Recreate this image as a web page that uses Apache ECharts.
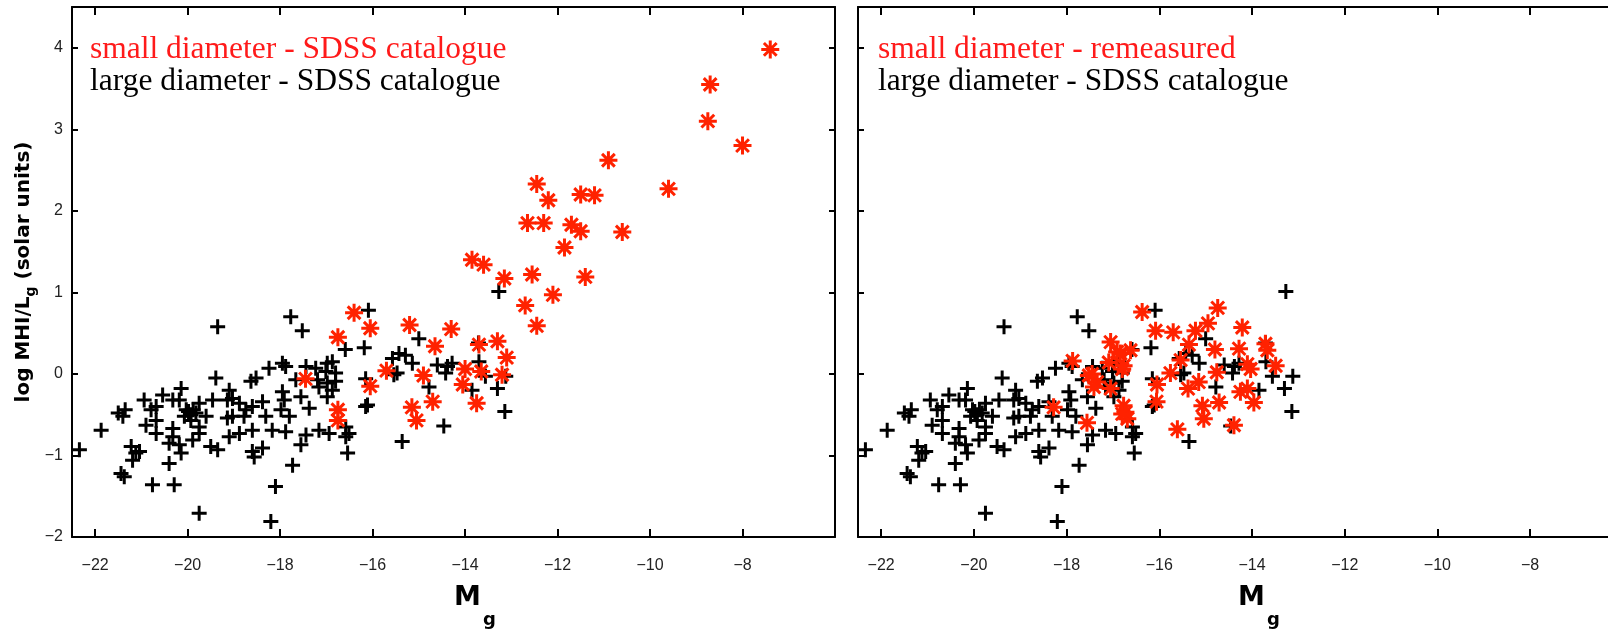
<!DOCTYPE html>
<html><head><meta charset="utf-8">
<script src="https://cdn.jsdelivr.net/npm/echarts@6/dist/echarts.min.js"></script>
<style>html,body{margin:0;padding:0;background:#fff}#c{width:1608px;height:630px}</style>
</head><body><div id="c"></div>
<script>
// ---- data ----
const xTicks = [-22, -20, -18, -16, -14, -12, -10, -8];
const yTicks = [-2, -1, 0, 1, 2, 3, 4];
const xRangeLeft = [-22.5, -6];
const xRangeRight = [-22.5, -6.32];   // right panel is cut by the picture edge
const yRange = [-2, 4.5];

const legendLeft = ['small diameter - SDSS catalogue', 'large diameter - SDSS catalogue'];
const legendRight = ['small diameter - remeasured', 'large diameter - SDSS catalogue'];
const yTitle = ['log MHI/L', 'g', ' (solar units)'];
const xTitle = ['M', 'g'];

// large diameter galaxies (same in both panels)
const largeDiameter = [
  [-22.34,-0.93],[-21.87,-0.69],
  [-21.5,-0.48],[-21.35,-0.44],[-21.4,-0.52],
  [-21.22,-0.89],[-21.12,-0.97],[-21.19,-1.06],[-21.04,-0.95],
  [-21.44,-1.22],[-21.37,-1.26],
  [-20.94,-0.32],[-20.79,-0.44],[-20.68,-0.40],[-20.9,-0.63],[-20.68,-0.57],[-20.68,-0.73],
  [-20.54,-0.26],[-20.32,-0.32],[-20.14,-0.18],[-20.18,-0.32],
  [-20.32,-0.67],[-20.32,-0.77],[-20.18,-0.87],[-20.4,-0.85],[-20.4,-1.1],[-20.14,-0.97],
  [-20.03,-0.44],[-19.93,-0.50],[-20.07,-0.52],[-19.82,-0.48],[-19.93,-0.57],[-19.98,-0.46],[-19.88,-0.44],
  [-19.75,-0.36],[-19.6,-0.52],[-19.75,-0.65],[-19.75,-0.73],[-19.89,-0.81],
  [-19.5,-0.89],[-19.35,-0.93],
  [-19.39,-0.05],[-19.35,0.58],
  [-19.46,-0.32],[-19.14,-0.32],[-19.1,-0.2],[-19.03,-0.3],[-18.88,-0.36],
  [-19.03,-0.52],[-19.14,-0.54],[-18.78,-0.52],[-18.74,-0.44],
  [-19.1,-0.77],[-18.88,-0.73],
  [-19.75,-1.71],
  [-20.76,-1.36],[-20.29,-1.36],
  [-18.63,-0.09],[-18.52,-0.05],
  [-18.6,-0.4],[-18.38,-0.34],[-18.6,-0.69],[-18.6,-0.95],[-18.38,-0.91],[-18.56,-1.02],
  [-18.31,-0.52],[-18.17,-0.69],
  [-18.24,0.07],[-17.95,0.13],[-17.88,0.09],
  [-17.95,-0.22],[-17.98,-0.44],[-17.8,-0.52],[-17.88,-0.71],[-17.91,-0.32],
  [-17.73,-1.12],[-18.1,-1.38],[-18.2,-1.81],
  [-17.77,0.70],[-17.52,0.53],
  [-17.66,-0.07],[-17.44,0.09],[-17.55,-0.28],[-17.37,-0.42],[-17.44,-0.75],[-17.55,-0.87],
  [-17.19,-0.07],[-17.16,-0.16],[-17.23,0.07],
  [-16.98,0.13],[-16.87,0.15],[-17.01,0.03],[-16.8,0.01],[-16.98,-0.11],[-16.8,-0.09],
  [-16.98,-0.28],[-16.87,-0.2],
  [-17.16,-0.69],[-16.94,-0.73],
  [-16.58,-0.65],[-16.51,-0.73],[-16.58,-0.77],[-16.54,-0.97],
  [-16.59,0.30],[-16.18,0.32],[-16.09,0.78],
  [-16.15,-0.06],[-16.11,-0.38],[-16.15,-0.40],
  [-15.36,-0.83],
  [-15.43,0.25],[-15.29,0.23],[-15.57,0.19],[-15.14,0.13],
  [-15.54,-0.01],[-15.47,0.01],
  [-15.0,0.43],
  [-14.6,0.11],[-14.38,0.09],[-14.28,0.13],[-14.42,0.01],
  [-14.78,-0.16],
  [-13.71,0.38],[-13.7,0.15],[-13.56,-0.03],[-13.85,-0.2],[-13.3,-0.18],[-13.12,-0.03],[-13.14,-0.46],
  [-13.27,1.01],
  [-14.46,-0.64]
];

// small diameter galaxies, SDSS catalogue values (left panel)
const smallCatalogue = [
  [-7.4,3.98],[-8.7,3.55],[-8.75,3.1],[-8.0,2.8],[-10.9,2.62],[-9.6,2.27],
  [-12.45,2.33],[-12.2,2.13],[-11.5,2.2],[-11.2,2.19],
  [-12.65,1.85],[-12.3,1.85],[-11.7,1.83],[-11.5,1.75],[-10.6,1.74],[-11.85,1.55],
  [-13.85,1.4],[-13.6,1.34],[-13.15,1.17],[-12.55,1.22],[-11.4,1.19],
  [-12.1,0.97],[-12.7,0.84],[-12.45,0.59],
  [-15.2,0.6],[-14.3,0.55],[-14.65,0.34],[-13.7,0.36],[-13.3,0.4],[-13.1,0.2],
  [-14.9,-0.02],[-14.0,0.06],[-13.65,0.03],[-13.2,-0.01],[-14.05,-0.13],
  [-14.7,-0.34],[-13.75,-0.36],[-15.15,-0.41],[-15.05,-0.57],
  [-16.4,0.75],[-16.05,0.56],[-16.75,0.45],[-17.45,-0.06],[-15.7,0.04],[-16.05,-0.15],
  [-16.75,-0.44],[-16.75,-0.57]
];

// small diameter galaxies, remeasured (right panel)
const smallRemeasured = [
  [-17.87,0.16],[-18.28,-0.41],[-17.56,-0.6],
  [-17.05,0.39],[-16.91,0.27],[-16.62,0.29],[-16.77,0.1],[-17.09,0.14],[-16.84,0.25],[-16.8,0.06],
  [-17.52,-0.02],[-17.34,-0.1],[-17.41,-0.16],[-17.05,-0.18],[-17.45,0.0],
  [-16.77,-0.39],[-16.73,-0.47],[-16.69,-0.55],[-16.8,-0.49],
  [-16.37,0.76],[-16.08,0.53],[-15.7,0.51],
  [-16.05,-0.13],[-16.06,-0.34],
  [-15.76,0.01],[-15.54,0.17],[-15.36,0.36],[-15.38,-0.18],[-15.61,-0.68],
  [-15.07,-0.39],[-15.04,-0.55],
  [-14.95,0.62],[-14.74,0.81],[-14.8,0.3],[-14.76,0.02],[-14.71,-0.35],[-14.39,-0.63],
  [-15.22,0.53],[-15.15,-0.1],
  [-14.21,0.57],[-14.28,0.31],[-13.71,0.37],[-13.67,0.29],
  [-14.1,0.12],[-14.03,0.06],[-13.49,0.1],
  [-14.25,-0.22],[-14.1,-0.18],[-13.96,-0.35]
];

// ---- styling ----
const RED = '#ff2200';
const RED_TEXT = '#ff1a1a';
const PLUS = 'path://M5 0V10M0 5H10';
const STAR = 'path://M5 0V10M0 5H10M1.46 1.46L8.54 8.54M8.54 1.46L1.46 8.54';
const minus = v => (v < 0 ? '\u2212' : '') + Math.abs(v);
const tickFont = { fontSize: 16, color: '#222', fontFamily: 'Liberation Sans, Arial, sans-serif' };

const grids = [
  { left: 72, top: 7, width: 763, height: 530 },
  { left: 858, top: 7, width: 750, height: 530 }
];

function xAxes(g, range) {
  const base = {
    gridIndex: g, type: 'value', min: range[0], max: range[1],
    axisLine: { onZero: false, lineStyle: { color: '#000', width: 2 } },
    axisTick: { inside: true, length: 8, customValues: xTicks, lineStyle: { color: '#000', width: 2 } },
    splitLine: { show: false }
  };
  return [
    Object.assign({}, base, { position: 'bottom',
      axisLabel: Object.assign({ customValues: xTicks, formatter: minus, margin: 21 }, tickFont) }),
    Object.assign({}, base, { position: 'top', axisLabel: { show: false } })
  ];
}
function yAxes(g, showLabels, showRight) {
  const base = {
    gridIndex: g, type: 'value', min: yRange[0], max: yRange[1],
    axisLine: { onZero: false, lineStyle: { color: '#000', width: 2 } },
    axisTick: { inside: true, length: 6, customValues: yTicks, lineStyle: { color: '#000', width: 2 } },
    splitLine: { show: false }
  };
  return [
    Object.assign({}, base, { position: 'left',
      axisLabel: Object.assign({ show: showLabels, customValues: yTicks, formatter: minus, margin: 9 }, tickFont) }),
    Object.assign({}, base, { position: 'right', show: showRight, axisLabel: { show: false } })
  ];
}

function scatter(data, xi, yi, symbol, size, color, width, z) {
  return {
    type: 'scatter', data: data, xAxisIndex: xi, yAxisIndex: yi,
    symbol: symbol, symbolSize: size, symbolKeepAspect: true, silent: true, z: z,
    itemStyle: { color: 'rgba(0,0,0,0)', borderColor: color, borderWidth: width, opacity: 1 },
    emphasis: { disabled: true }, animation: false
  };
}

const serif = '31.5px "Liberation Serif", "Times New Roman", serif';
const boldSans = 'bold 20px "DejaVu Sans", Verdana, sans-serif';

function legendTexts(x, lines) {
  return [
    { type: 'text', x: x, y: 50, style: { text: lines[0], font: serif, fill: RED_TEXT, verticalAlign: 'middle' } },
    { type: 'text', x: x, y: 82, style: { text: lines[1], font: serif, fill: '#000', verticalAlign: 'middle' } }
  ];
}
function xTitleTexts(x) {
  return [
    { type: 'text', x: x, y: 598, style: { text: xTitle[0], font: 'bold 27px "DejaVu Sans", sans-serif', fill: '#000', verticalAlign: 'middle' } },
    { type: 'text', x: x + 29, y: 620, style: { text: xTitle[1], font: 'bold 18px "DejaVu Sans", sans-serif', fill: '#000', verticalAlign: 'middle' } }
  ];
}

const chart = echarts.init(document.getElementById('c'), null, { renderer: 'canvas' });
chart.setOption({
  backgroundColor: '#fff',
  animation: false,
  grid: grids,
  xAxis: xAxes(0, xRangeLeft).concat(xAxes(1, xRangeRight)),
  yAxis: yAxes(0, true, true).concat(yAxes(1, false, false)),
  series: [
    scatter(largeDiameter, 0, 0, PLUS, 15, '#000', 3, 2),
    scatter(smallCatalogue, 0, 0, STAR, 18, RED, 3, 3),
    scatter(largeDiameter, 2, 2, PLUS, 15, '#000', 3, 2),
    scatter(smallRemeasured, 2, 2, STAR, 18, RED, 3, 3)
  ],
  graphic: [].concat(
    legendTexts(90, legendLeft),
    legendTexts(878, legendRight),
    xTitleTexts(454),
    xTitleTexts(1238),
    [{
      type: 'text', x: 26, y: 272, rotation: Math.PI / 2,
      style: {
        text: '{a|' + yTitle[0] + '}{s|' + yTitle[1] + '}{a|' + yTitle[2] + '}',
        align: 'center', verticalAlign: 'middle', fill: '#000',
        rich: {
          a: { font: boldSans, lineHeight: 24, verticalAlign: 'top' },
          s: { font: 'bold 14px "DejaVu Sans", Verdana, sans-serif', lineHeight: 24, verticalAlign: 'bottom', padding: [10, 0, 0, 0] }
        }
      }
    }]
  )
});
</script>
</body></html>
